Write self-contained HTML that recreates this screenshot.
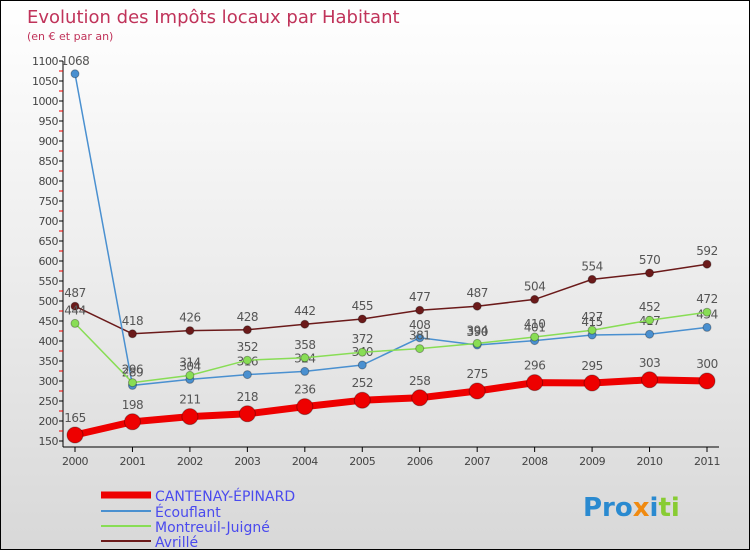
<!DOCTYPE html>
<html><head><meta charset="utf-8"><style>
body{margin:0;}
#wrap{width:748px;height:548px;border:1px solid #000;background:linear-gradient(#fff 0%,#f0f0f0 40%,#d8d8d8 100%);position:relative;overflow:hidden;font-family:"DejaVu Sans","Liberation Sans",sans-serif;}
svg text{font-family:"DejaVu Sans","Liberation Sans",sans-serif;}
</style></head><body>
<div id="wrap">
<svg id="svg" width="748" height="548">
<text x="26" y="22" font-size="18" fill="#c0335a">Evolution des Impôts locaux par Habitant</text>
<text x="26" y="39" font-size="11" fill="#c0335a">(en € et par an)</text>
<g id="axes"></g><g id="series"></g>
<g>
<line x1="100" y1="494" x2="150" y2="494" stroke="#ee0000" stroke-width="7"/>
<text x="154" y="500" font-size="14" fill="#4a4aee">CANTENAY-ÉPINARD</text>
<line x1="100" y1="510" x2="150" y2="510" stroke="#4a90d0" stroke-width="2"/>
<text x="154" y="516" font-size="14" fill="#4a4aee">Écouflant</text>
<line x1="100" y1="525" x2="150" y2="525" stroke="#88dd55" stroke-width="2"/>
<text x="154" y="531" font-size="14" fill="#4a4aee">Montreuil-Juigné</text>
<line x1="100" y1="540" x2="150" y2="540" stroke="#6b1a1a" stroke-width="2"/>
<text x="154" y="546" font-size="14" fill="#4a4aee">Avrillé</text>
</g>
<text x="582" y="515" font-size="26" font-weight="bold"><tspan fill="#2a8ad0">Pro</tspan><tspan fill="#f08a10">x</tspan><tspan fill="#2a8ad0">i</tspan><tspan fill="#88cc33">ti</tspan></text>
</svg></div>
<script>
const years=[2000,2001,2002,2003,2004,2005,2006,2007,2008,2009,2010,2011];
const cantenay=[165,198,211,218,236,252,258,275,296,295,303,300];
const ecouflant=[1068,289,304,316,324,340,408,390,401,415,417,434];
const montreuil=[444,296,314,352,358,372,381,394,410,427,452,472];
const avrille=[487,418,426,428,442,455,477,487,504,554,570,592];
const yTicks=[150,200,250,300,350,400,450,500,550,600,650,700,750,800,850,900,950,1000,1050,1100];
const NS="http://www.w3.org/2000/svg";
const X=i=>74+i*(632/11);
const Y=v=>440-(v-150)*0.4;
function mk(t,a,p){const e=document.createElementNS(NS,t);for(const k in a)e.setAttribute(k,a[k]);p.appendChild(e);return e;}
const ax=document.getElementById('axes');
const yl=mk('line',{x1:62,y1:Y(1100),x2:62,y2:446,stroke:'#000'},ax);


const xl=mk('line',{x1:62,y1:446,x2:718,y2:446,stroke:'#000'},ax);


yTicks.forEach((v,i)=>{
 mk('line',{x1:58,y1:Y(v),x2:62,y2:Y(v),stroke:'#000'},ax);
 if(i<yTicks.length-1) mk('line',{x1:58,y1:Y(v+25),x2:62,y2:Y(v+25),stroke:'#e00'},ax);
 const t=mk('text',{x:57,y:Y(v)+4,'font-size':11,fill:'#444','text-anchor':'end','letter-spacing':'-0.5'},ax);
 
 
 t.textContent=v;
});
years.forEach((y,i)=>{
 mk('line',{x1:X(i),y1:446,x2:X(i),y2:451,stroke:'#000'},ax);
 const t=mk('text',{x:X(i),y:464,'font-size':11,fill:'#444','text-anchor':'middle','letter-spacing':'-0.5'},ax);
 
 
 t.textContent=y;
});
const sg=document.getElementById('series');
function draw(arr,name,color,w,r){
 const g=mk('g',{},sg);
 
 
 mk('polyline',{points:arr.map((v,i)=>X(i)+','+Y(v)).join(' '),fill:'none',stroke:color,'stroke-width':w},g);
 arr.forEach((v,i)=>{
  const c=mk('circle',{cx:X(i),cy:Y(v),r:r,fill:color,stroke:'rgba(0,0,0,0.3)'},g);
  
  
  const t=mk('text',{x:X(i),y:Y(v)-9-(r>5?4:0),'font-size':12,fill:'#555','text-anchor':'middle','letter-spacing':'-0.5'},g);
  
  
  t.textContent=v;
 });
}
draw(avrille,'avrille','#6b1a1a',1.5,4);
draw(ecouflant,'ecouflant','#4a90d0',1.5,4);
draw(montreuil,'montreuil','#88dd55',1.5,4);
draw(cantenay,'cantenay','#ee0000',7,8);
</script>
</body></html>
